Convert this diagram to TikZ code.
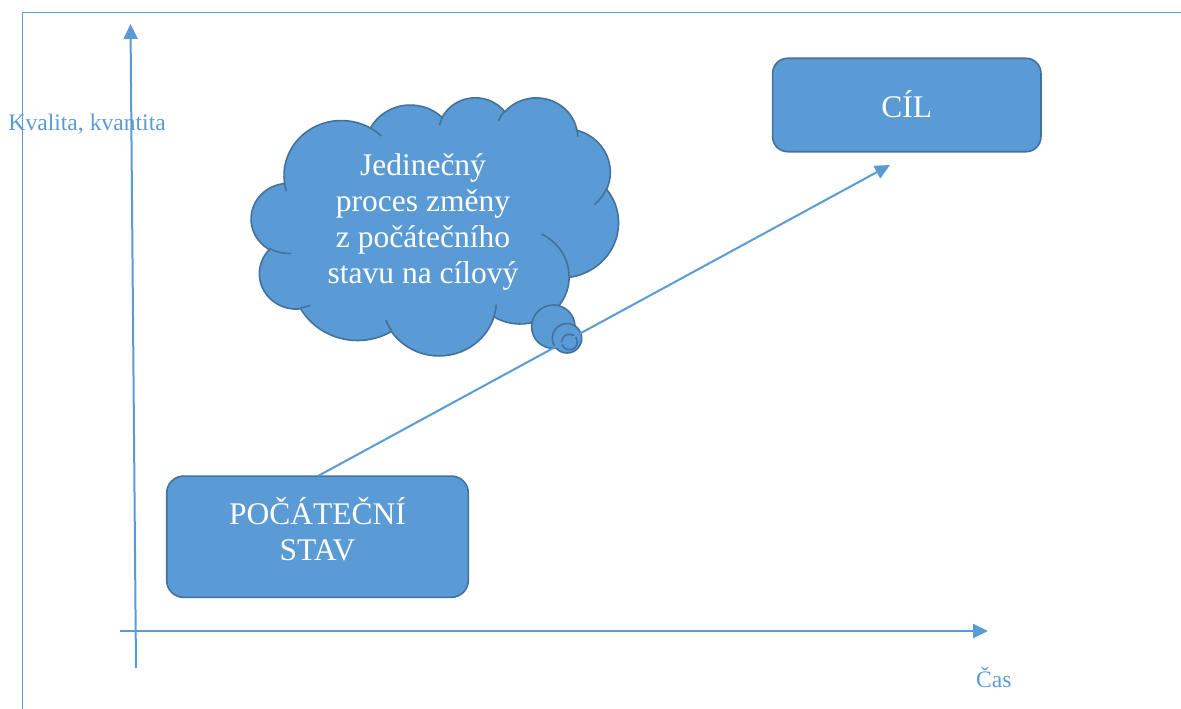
\documentclass[tikz,border=0pt]{standalone}
\usepackage{fontspec}
\setmainfont{Liberation Serif}
\usetikzlibrary{arrows.meta}
\definecolor{wfill}{HTML}{5B9BD5}
\definecolor{wline}{HTML}{41719C}
\tikzset{
  declare function={oot(\ra,\rb,\an)=\an+(atan2(\ra*sin(\an),\rb*cos(\an))-\an)-360*round((atan2(\ra*sin(\an),\rb*cos(\an))-\an)/360);},
  shapesty/.style={fill=wfill, draw=wline, line width=1.6pt},
  creasesty/.style={draw=wline, line width=1.6pt},
  boxsty/.style={shapesty, rounded corners=#1, inner sep=0pt},
  boxtext/.style={text=white, inner sep=0pt, font=\fontsize{31.5}{35.8}\selectfont, align=center},
  axissty/.style={draw=wfill, line width=2pt, -{Triangle[length=15pt,width=14pt]}},
  arrowsty/.style={draw=wfill, line width=2pt, -{Triangle[length=15pt,width=14pt]}},
  framesty/.style={draw=wfill, line width=1.4pt},
  labelsty/.style={text=wfill, inner sep=0pt, font=\fontsize{23.6}{28}\selectfont},
}
\newcommand\ooarc[4]{arc[x radius=#1, y radius=#2, start angle={oot(#1,#2,#3)}, end angle={oot(#1,#2,#3+#4)}]}
\begin{document}
\begin{tikzpicture}[x=1pt,y=-1pt]
\useasboundingbox (0,0) rectangle (1181,709);
% frame
\draw[framesty] (22.3,709) -- (22.3,12.3) -- (1181,12.3);
% axes
\coordinate (yb) at (136,668);
\coordinate (yt) at (130.5,24);
\coordinate (xl) at (120,631);
\coordinate (xr) at (988,631);
\draw[axissty] (yb) -- (yt);
\draw[axissty] (xl) -- (xr);
\node[labelsty, anchor=base west] (ylab) at (8.3,130.7) {Kvalita, kvantita};
\node[labelsty, anchor=base west] (xlab) at (976,687.3) {Čas};
% boxes
\node[boxsty=17pt, minimum width=301.6pt, minimum height=121.3pt] (start) at (317.5,536.7) {};
\node[boxtext] (starttext) at (317.5,529) {POČÁTEČNÍ\\STAV};
\node[boxsty=15pt, minimum width=268.3pt, minimum height=93.4pt] (goal) at (906.8,105) {};
\node[boxtext] (goaltext) at (906.8,104.5) {CÍL};
% cloud
\begin{scope}[shift={(251.4,97)}, x=8.4954pt, y=-5.9722pt]
\path[shapesty] (3.900,14.370)
  \ooarc{6.753}{9.190}{-190.4875}{123.7805}
  \ooarc{5.333}{7.267}{-144.1024}{89.9452}
  \ooarc{4.365}{5.945}{-145.8079}{99.7230}
  \ooarc{4.857}{6.595}{-130.9861}{117.2417}
  \ooarc{5.333}{7.273}{-78.7089}{109.0269}
  \ooarc{6.775}{9.220}{-46.2673}{130.2690}
  \ooarc{5.785}{7.867}{0.6250}{114.0333}
  \ooarc{6.752}{9.215}{22.4516}{115.1726}
  \ooarc{7.720}{10.543}{66.2426}{75.7110}
  \ooarc{4.360}{5.918}{-274.9421}{146.7356}
  \ooarc{4.345}{5.945}{-246.8285}{152.5206}
  -- cycle;
\path[creasesty]
  (4.693,26.177) \ooarc{4.345}{5.945}{86.7420}{26.4295}
  (6.928,34.899) \ooarc{4.360}{5.918}{73.6105}{11.4475}
  (16.478,39.090) \ooarc{6.752}{9.215}{137.6242}{14.0811}
  (28.827,34.751) \ooarc{6.752}{9.215}{6.4533}{15.9984}
  (34.129,22.954) \ooarc{5.785}{7.867}{-70.2924}{70.9174}
  (41.798,15.354) \ooarc{5.333}{7.273}{30.3180}{27.7515}
  (38.324,5.426) \ooarc{4.857}{6.595}{-13.7443}{14.8589}
  (29.078,3.952) \ooarc{4.857}{6.595}{-149.1815}{18.1954}
  (22.141,4.720) \ooarc{4.365}{5.945}{-163.4943}{17.6864}
  (14.000,5.192) \ooarc{6.753}{9.190}{-66.7070}{12.3194}
  (4.127,15.789) \ooarc{6.753}{9.190}{157.6544}{11.8582};
\end{scope}
\node[shapesty, circle, minimum size=43.4pt, inner sep=0pt] (b1) at (553.3,326.7) {};
\node[shapesty, circle, minimum size=29.4pt, inner sep=0pt] (b2) at (567,338.3) {};
\node[shapesty, circle, minimum size=15.6pt, inner sep=0pt] (b3) at (569.5,342) {};
\node[boxtext] (ctext) at (423,222) {Jedinečný\\proces změny\\z počátečního\\stavu na cílový};
% process arrow
\coordinate (ps) at (318,476);
\coordinate (pe) at (890,165);
\draw[arrowsty] (ps) -- (pe);
\end{tikzpicture}
\end{document}
